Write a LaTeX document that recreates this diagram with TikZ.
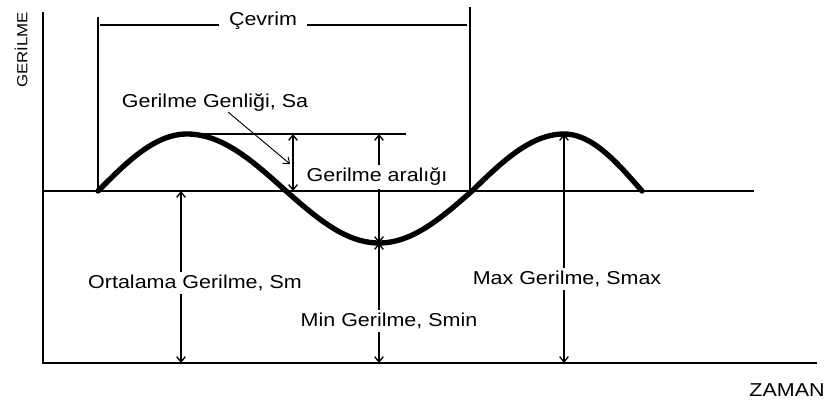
\documentclass[tikz,border=0pt]{standalone}
\usepackage{fontspec}
\setmainfont{Liberation Sans}[FakeStretch=1.15]
\usetikzlibrary{arrows.meta}
\begin{document}
\begin{tikzpicture}[x=0.75pt,y=-0.75pt,
  >={Straight Barb[length=4pt,width=6.5pt]},
  lbl/.style={font=\fontsize{14}{16}\selectfont, inner sep=2pt},
  axisln/.style={line width=1.4pt},
  fineln/.style={line width=1pt},
  leaderln/.style={line width=0.7pt},
  waveln/.style={line width=4pt, line cap=round, line join=round}]
\useasboundingbox (0,0) rectangle (828,401);
% axes
\coordinate (O) at (43,363);
\coordinate (Ytop) at (43,12);
\coordinate (Xend) at (817,363);
\coordinate (M0) at (43,191);
\coordinate (M1) at (754,191);
\draw[axisln] (Ytop) -- (O) -- (Xend);
\draw[fineln] (M0) -- (M1);
\node[font=\fontsize{11}{13}\selectfont, rotate=90] (ylab) at (21,50) {GERİLME};
\node[lbl] (xlab) at (787,390) {ZAMAN};
% cycle
\coordinate (cl0) at (98,17);
\coordinate (cl1) at (98,191);
\coordinate (cr0) at (470,7);
\coordinate (cr1) at (470,191);
\coordinate (ch0) at (100,25);
\coordinate (ch1) at (467,25);
\node[lbl, inner xsep=7pt] (cev) at (263,21) {Çevrim};
\draw[fineln] (cl0) -- (cl1);
\draw[fineln] (cr0) -- (cr1);
\draw[fineln] (ch0) -- (ch0 -| cev.west);
\draw[fineln] (ch1 -| cev.east) -- (ch1);
% peak line
\coordinate (p0) at (187,134);
\coordinate (p1) at (406,134);
\draw[fineln] (p0) -- (p1);
% wave
\draw[waveln]
  plot[domain=98:187, samples=30] (\x, {191-57*sin((\x-98)/89*90)})
  -- plot[domain=187:286, samples=30] (\x, {191-57*cos((\x-187)/99*90)})
  -- plot[domain=286:379, samples=30] (\x, {191+52*sin((\x-286)/93*90)})
  -- plot[domain=379:472, samples=30] (\x, {191+52*cos((\x-379)/93*90)})
  -- plot[domain=472:564, samples=30] (\x, {191-57*sin((\x-472)/92*90)})
  -- plot[domain=564:642, samples=30] (\x, {191-57*cos((\x-564)/78*90)});
% amplitude
\node[lbl] (sa) at (215,103) {Gerilme Genliği, Sa};
\coordinate (sa0) at (228,112);
\coordinate (sa1) at (290,164);
\draw[leaderln,->] (sa0) -- (sa1);
\coordinate (a0) at (293,134);
\coordinate (a1) at (293,191);
\draw[fineln,<->] (a0) -- (a1);
% range
\node[lbl] (ar) at (377,177) {Gerilme aralığı};
\coordinate (r0) at (379,134);
\coordinate (r1) at (379,243);
\coordinate (rb) at (379,363);
\draw[fineln,<-] (r0) -- (r0 |- ar.north);
\draw[fineln,->] (r0 |- ar.south) -- (r1);
% min
\node[lbl] (mn) at (389,321) {Min Gerilme, Smin};
\draw[fineln,<-] (r1) -- (r1 |- mn.north);
\draw[fineln,->] (r1 |- mn.south) -- (rb);
% mean
\node[lbl] (sm) at (195,283) {Ortalama Gerilme, Sm};
\coordinate (m0) at (181,191);
\coordinate (m1) at (181,363);
\draw[fineln,<-] (m0) -- (m0 |- sm.north);
\draw[fineln,->] (m0 |- sm.south) -- (m1);
% max
\node[lbl] (sx) at (567,279) {Max Gerilme, Smax};
\coordinate (x0) at (564,134);
\coordinate (x1) at (564,363);
\draw[fineln,<-] (x0) -- (x0 |- sx.north);
\draw[fineln,->] (x0 |- sx.south) -- (x1);
\end{tikzpicture}
\end{document}
